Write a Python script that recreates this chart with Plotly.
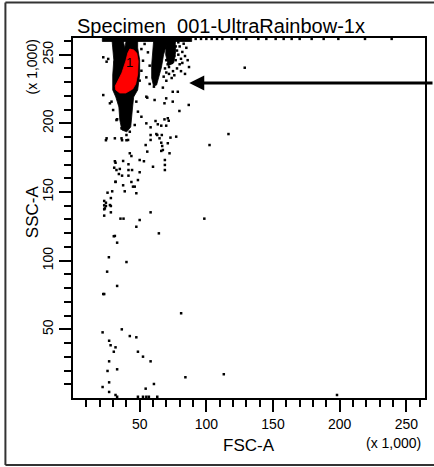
import plotly.graph_objects as go

# ---- data (FSC-A, SSC-A in units of 1,000) ----
x_tickvals = [50, 100, 150, 200, 250]
y_tickvals = [50, 100, 150, 200, 250]
minor_vals = [v for v in range(10, 261, 10) if v % 50 != 0]

# dense event region of population 1 (black)
cluster1_fsc = [29.1, 37.3, 38.8, 40.3, 48.5, 48.5, 50.0, 50.0, 48.5, 45.5, 44.7, 44.0, 43.3, 40.3, 36.6, 35.1, 34.4, 32.1, 29.8, 29.8, 30.6, 29.8]
cluster1_ssc = [262.1, 262.1, 254.9, 262.1, 262.1, 254.9, 246.2, 235.2, 224.3, 219.2, 211.9, 204.6, 197.4, 193.8, 195.2, 202.5, 211.9, 219.2, 224.3, 235.2, 246.2, 254.9]

# gated population "1" (red)
gate_fsc = [42.6, 45.5, 47.8, 48.9, 48.5, 47.0, 44.8, 39.6, 35.1, 32.1, 31.7, 33.6, 36.6, 39.6, 41.1]
gate_ssc = [254.1, 253.4, 251.2, 245.4, 235.9, 228.6, 225.0, 222.1, 222.1, 224.3, 227.2, 230.8, 236.6, 245.4, 251.2]

# second population
cluster2_fsc = [61.2, 72.4, 70.1, 67.9, 66.4, 64.2, 62.7, 60.4, 59.0, 59.0, 59.7, 60.4]
cluster2_ssc = [262.1, 262.1, 257.0, 249.8, 241.0, 233.0, 227.9, 227.2, 233.0, 242.5, 252.0, 259.2]

# third population core
cluster3_fsc = [70.0, 76.5, 77.0, 75.5, 71.5, 69.5]
cluster3_ssc = [261.0, 261.0, 252.0, 244.0, 242.0, 250.0]

# saturated events along the top of the SSC scale
topband_fsc = [22.0, 89.0, 89.0, 22.0]
topband_ssc = [262.1, 262.1, 259.6, 259.6]

# individual events
events_fsc = [
    116.6, 102.4, 24.7, 36.8, 40.1, 58.2, 58.2, 58.2, 62.5, 66.6, 64.9, 73.1, 77.4,
    54.5, 66.2, 66.9, 71.1, 55.7, 66.2, 67.4, 72.4, 42.6, 43.8, 50.0, 53.2,
    37.6, 31.9, 41.6, 30.9, 35.1, 41.6, 44.3, 50.0, 60.0, 68.9, 68.9, 68.9,
    34.4, 36.8, 41.6, 48.7, 43.8, 31.9, 37.6, 45.0, 46.3, 25.9, 29.4, 38.8, 47.5,
    28.4, 23.4, 24.7, 23.4, 28.4, 24.7, 23.4, 28.4, 58.2, 23.4, 35.6, 37.9, 50.0, 98.5,
    47.5, 30.6, 64.4, 33.1, 26.9, 40.1,
    25.6, 33.1, 22.7, 23.4, 81.1, 22.2, 36.6, 42.6, 47.5, 27.1, 28.2, 31.9, 30.6,
    48.7, 52.5, 58.2, 27.1, 25.9, 33.1, 84.3, 113.1, 27.1, 22.2, 60.7, 54.5,
    27.1, 31.9, 33.1, 48.7, 52.5, 55.0, 56.9, 63.2, 198.0,
    28.9, 30.1, 33.1, 31.4, 32.6, 31.9, 27.7, 23.9, 31.4,
    60.7, 67.4, 74.8, 78.6, 55.7, 61.2, 69.9, 74.8, 68.6, 86.8, 79.8,
    61.9, 68.6, 71.1, 71.8, 63.6, 66.2, 69.9, 63.2,
    51.3, 53.7, 56.2, 52.5, 57.5, 51.3, 55.0, 57.5, 50.0,
    22.7, 26.4, 31.4, 25.2, 22.7, 55.0, 27.7, 47.5, 48.7, 51.3, 32.6, 46.3, 55.0,
    36.4, 42.6, 40.1, 25.2, 36.4, 41.3, 31.4, 128.8,
    69.0, 70.0, 71.0, 72.0, 70.0, 71.0, 69.0, 70.0, 73.0, 74.0, 75.0, 73.0, 74.0, 72.0,
    76.0, 77.0, 78.0, 76.0, 77.0, 75.0, 79.0, 80.0, 79.0, 81.0, 80.0, 78.0, 82.0, 83.0,
    82.0, 84.0, 72.0, 74.0, 68.0, 85.0, 86.0, 87.0, 70.0, 76.0, 81.0, 84.0,
    92.0, 96.0, 100.0, 104.0, 108.0, 112.0, 119.0, 123.0, 130.0, 139.0, 145.0, 152.0,
    158.0, 164.0, 170.0, 179.0, 188.0, 199.0, 219.0, 239.0,
]
events_ssc = [
    192.2, 184.2, 187.7, 187.7, 187.7, 197.1, 191.5, 187.9, 192.2, 191.5, 189.1, 189.6, 190.3,
    184.2, 185.9, 183.5, 185.5, 179.4, 179.9, 180.6, 178.2, 178.2, 176.2, 173.3, 172.4,
    172.6, 171.3, 170.2, 167.7, 166.8, 166.0, 166.0, 164.4, 168.4, 169.7, 173.3, 166.0,
    163.1, 161.9, 161.9, 158.7, 157.3, 157.3, 154.9, 153.9, 153.9, 149.5, 150.5, 150.5, 149.1,
    145.6, 143.5, 142.2, 140.3, 139.8, 139.8, 137.4, 135.2, 135.2, 132.8, 130.6, 130.6, 129.6, 130.6,
    124.7, 117.8, 119.9, 113.1, 102.5, 99.0,
    92.0, 81.6, 75.7, 75.7, 61.7, 47.8, 50.0, 45.1, 44.2, 41.7, 38.4, 36.9, 33.7,
    33.7, 30.1, 26.7, 26.7, 19.7, 20.9, 15.1, 17.3, 11.4, 8.0, 10.2, 6.8,
    4.4, 2.2, 0.9, 0.9, 0.9, 0.9, 0.9, 0.9, 2.2,
    215.8, 209.7, 203.0, 172.4, 166.0, 157.5, 140.5, 138.1, 118.0,
    226.7, 226.0, 223.0, 223.0, 218.7, 217.0, 218.2, 215.8, 214.6, 213.4, 209.0,
    201.7, 202.9, 203.7, 201.9, 199.3, 198.3, 198.3, 191.5,
    254.1, 257.8, 251.7, 245.6, 242.0, 238.3, 233.5, 228.7, 231.1,
    248.1, 246.9, 244.5, 244.9, 220.6, 219.4, 214.6, 215.8, 208.5, 204.8, 202.4, 198.8, 200.0,
    196.4, 193.9, 191.5, 189.1, 189.1, 187.9, 189.1, 240.5,
    258.0, 255.0, 252.0, 249.0, 246.0, 243.0, 240.0, 237.0, 257.0, 254.0, 251.0, 247.0, 244.0, 241.0,
    259.0, 256.0, 253.0, 249.0, 246.0, 238.0, 259.0, 256.0, 250.0, 247.0, 243.0, 240.0, 252.0, 258.0,
    244.0, 249.0, 236.0, 233.0, 234.0, 255.0, 246.0, 241.0, 231.0, 235.0, 238.0, 236.0,
    261.5, 261.5, 261.5, 261.5, 261.5, 261.5, 261.5, 261.5, 261.5, 261.5, 261.5, 261.5,
    261.5, 261.5, 261.5, 261.5, 261.5, 261.5, 261.5, 261.5,
]

gate_label = "1"
gate_label_pos = (42.0, 244.0)
arrow_tip = (87.2, 229.4)

TICK_FONT = "Liberation Sans Narrow, Liberation Sans, Arial, sans-serif"
TEXT_FONT = "Liberation Sans, Arial, sans-serif"

fig = go.Figure()


def poly(xs, ys, color):
    fig.add_trace(go.Scatter(
        x=xs + xs[:1], y=ys + ys[:1], mode="lines", fill="toself",
        fillcolor=color, line=dict(color=color, width=0.8),
        hoverinfo="skip", showlegend=False))


poly(topband_fsc, topband_ssc, "black")
poly(cluster1_fsc, cluster1_ssc, "black")
poly(cluster2_fsc, cluster2_ssc, "black")
poly(cluster3_fsc, cluster3_ssc, "black")

fig.add_trace(go.Scatter(
    x=events_fsc, y=events_ssc, mode="markers",
    marker=dict(symbol="square", size=2.5, color="black", line=dict(width=0)),
    showlegend=False, hoverinfo="skip", cliponaxis=True))

poly(gate_fsc, gate_ssc, "#ff0000")

fig.add_annotation(x=gate_label_pos[0], y=gate_label_pos[1], text=gate_label,
                   showarrow=False, font=dict(family=TEXT_FONT, size=13, color="black"))

# arrow
fig.add_annotation(x=arrow_tip[0], y=arrow_tip[1], text="", showarrow=True,
                   ax=270, ay=0, arrowhead=2, arrowsize=1, arrowwidth=3,
                   arrowcolor="black", standoff=0)

axis_common = dict(
    showgrid=False, zeroline=False, showline=True, linecolor="black", linewidth=2,
    mirror=True, ticks="outside", ticklen=12, tickwidth=1.5, tickcolor="black",
    tickfont=dict(family=TICK_FONT, size=14, color="black"),
    tickmode="array",
    minor=dict(tickmode="array", tickvals=minor_vals, ticks="outside", ticklen=7,
               tickwidth=1.5, tickcolor="black", showgrid=False),
)

fig.update_xaxes(range=[0, 264], tickvals=x_tickvals,
                 ticktext=[str(v) for v in x_tickvals], **axis_common)
fig.update_yaxes(range=[0, 262.144], tickvals=y_tickvals,
                 ticktext=[str(v) for v in y_tickvals], tickangle=-90, **axis_common)

# titles as paper annotations
ann_font = dict(family=TEXT_FONT, color="black")
fig.add_annotation(xref="paper", yref="paper", x=0.421, y=1.0306, text="Specimen_001-UltraRainbow-1x",
                   showarrow=False, font=dict(size=20, **ann_font), xanchor="center", yanchor="middle")
fig.add_annotation(xref="paper", yref="paper", x=0.5, y=-0.1333, text="FSC-A",
                   showarrow=False, font=dict(size=17, **ann_font), xanchor="center", yanchor="middle")
fig.add_annotation(xref="paper", yref="paper", x=0.9096, y=-0.125, text="(x 1,000)",
                   showarrow=False, font=dict(size=14, **ann_font), xanchor="center", yanchor="middle")
fig.add_annotation(xref="paper", yref="paper", x=-0.113, y=0.5167, text="SSC-A", textangle=-90,
                   showarrow=False, font=dict(size=17, **ann_font), xanchor="center", yanchor="middle")
fig.add_annotation(xref="paper", yref="paper", x=-0.1158, y=0.919, text="(x 1,000)", textangle=-90,
                   showarrow=False, font=dict(size=14, **ann_font), xanchor="center", yanchor="middle")

# outer frame (left, top, bottom edges; the right edge lies outside the picture)
frame_line = dict(color="#333333", width=2)
fig.add_shape(type="line", xref="paper", yref="paper", x0=-0.192, x1=-0.192, y0=-0.186, y1=1.0986,
              line=frame_line, layer="above")
fig.add_shape(type="line", xref="paper", yref="paper", x0=-0.192, x1=1.3, y0=1.0986, y1=1.0986,
              line=frame_line, layer="above")
fig.add_shape(type="line", xref="paper", yref="paper", x0=-0.192, x1=1.3, y0=-0.186, y1=-0.186,
              line=frame_line, layer="above")

fig.update_layout(
    width=434, height=467,
    margin=dict(l=73, r=7, t=38, b=69),
    paper_bgcolor="white", plot_bgcolor="white",
    showlegend=False,
)

fig.write_html(
    "out.html", config={"displayModeBar": False},
    post_script=("document.body.style.margin='0';document.body.style.padding='0';"
                 "document.body.style.overflow='hidden';"
                 "document.documentElement.style.overflow='hidden';"))
